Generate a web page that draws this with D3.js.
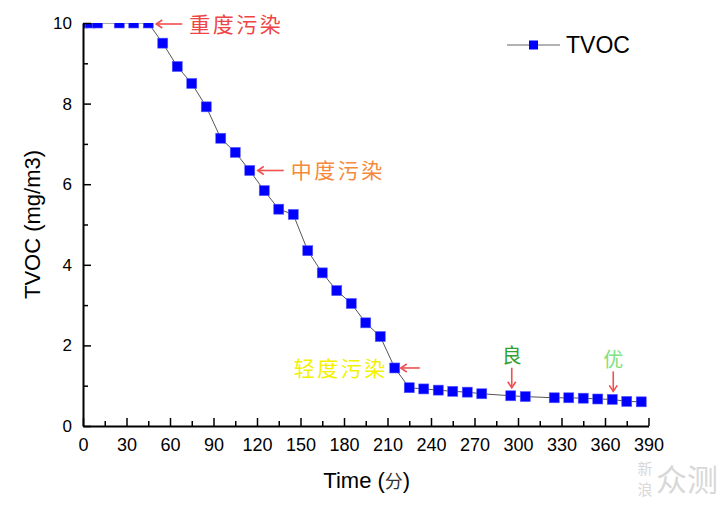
<!DOCTYPE html>
<html><head><meta charset="utf-8">
<script src="https://cdn.jsdelivr.net/npm/d3@7"></script>
<style>
body{margin:0;background:#fff;}
svg{display:block;}
text{font-family:"Liberation Sans",Arial,sans-serif;}
.cjk{font-family:"Noto Sans CJK SC","Noto Sans CJK JP",sans-serif;}
</style></head>
<body>
<svg id="chart" width="720" height="508"></svg>
<script>
// ---- data ----
const times = [0,5,10,25,35,45,55,65,75,85,95,105,115,125,135,145,155,165,175,185,195,205,215,225,235,245,255,265,275,295,305,325,335,345,355,365,375,385];
const tvoc  = [10,10,10,10,10,10,9.50,8.92,8.50,7.92,7.14,6.79,6.34,5.84,5.38,5.25,4.35,3.80,3.36,3.04,2.56,2.22,1.44,0.95,0.92,0.89,0.86,0.84,0.80,0.75,0.73,0.70,0.70,0.69,0.67,0.66,0.61,0.60];
const xTicks = [0,30,60,90,120,150,180,210,240,270,300,330,360,390];
const yTicks = [0,2,4,6,8,10];
const seriesName = "TVOC";
const xTitle = "Time (";
const xTitleCJK = "分";
const yTitle = "TVOC (mg/m3)";
// annotations: label, time of the pointed point, colour
const annoLeft = [ {label:"重度污染", t:45, color:"#ee4646"}, {label:"中度污染", t:115, color:"#f58a3c"} ];
const annoRight = [ {label:"轻度污染", t:215, color:"#f2f200"} ];
const annoTop = [ {label:"良", t:295, color:"#33a033"}, {label:"优", t:365, color:"#7ee27e"} ];

const svg = d3.select("#chart");
const W=720,H=508;
const pLeft=83, pRight=648.5, pTop=23, pBottom=426;
const x = d3.scaleLinear().domain([0,390]).range([pLeft,pRight]);
const y = d3.scaleLinear().domain([0,10]).range([pBottom,pTop]);
const data = times.map((t,i)=>({t, v:tvoc[i]}));
const byT = t => data.find(d=>d.t===t);

svg.append("rect").attr("width",W).attr("height",H).attr("fill","#fff");

svg.append("defs").append("clipPath").attr("id","clip")
  .append("rect").attr("x",pLeft).attr("y",pTop).attr("width",pRight-pLeft).attr("height",pBottom-pTop);

const plot = svg.append("g").attr("clip-path","url(#clip)");
plot.append("path").datum(data)
  .attr("fill","none").attr("stroke","#555").attr("stroke-width",1)
  .attr("d", d3.line().x(d=>x(d.t)).y(d=>y(d.v)));
const ms = 10;
plot.selectAll("rect.m").data(data).join("rect").attr("class","m")
  .attr("x",d=>x(d.t)-ms/2).attr("y",d=>y(d.v)-ms/2)
  .attr("width",ms).attr("height",ms)
  .attr("fill","#0000ff").attr("stroke","#5a5aff").attr("stroke-width",0.6);

// axes
const xMinor = d3.range(15,391,30);
const yMinor = [1,3,5,7,9];
const gx = svg.append("g").attr("transform",`translate(0,${pBottom})`);
gx.call(d3.axisBottom(x).tickValues(xMinor).tickSize(-5).tickSizeOuter(0).tickFormat(""));
gx.call(g=>g.select(".domain").remove());
const gx2 = svg.append("g").attr("transform",`translate(0,${pBottom})`)
  .call(d3.axisBottom(x).tickValues(xTicks).tickSizeInner(-8).tickSizeOuter(0).tickPadding(12).tickFormat(d3.format("d")));
const gy = svg.append("g").attr("transform",`translate(${pLeft},0)`);
gy.call(d3.axisLeft(y).tickValues(yMinor).tickSize(-5).tickSizeOuter(0).tickFormat(""));
gy.call(g=>g.select(".domain").remove());
const gy2 = svg.append("g").attr("transform",`translate(${pLeft},0)`)
  .call(d3.axisLeft(y).tickValues(yTicks).tickSizeInner(-8).tickSizeOuter(0).tickPadding(11).tickFormat(d3.format("d")));
[gx,gx2,gy,gy2].forEach(g=>{
  g.selectAll(".tick line").attr("stroke","#000").attr("stroke-width",1.5);
  g.selectAll(".domain").attr("stroke","#000").attr("stroke-width",2);
  g.selectAll("text").attr("font-size",17).attr("fill","#000")
   .style("font-family",'"Liberation Sans",Arial,sans-serif');
});
gx2.selectAll("text").attr("font-size",18);

// titles
svg.append("text").attr("transform",`translate(40,${(pTop+pBottom)/2}) rotate(-90)`)
  .attr("text-anchor","middle").attr("font-size",22).attr("fill","#000").text(yTitle);
const xt = svg.append("text").attr("x",(pLeft+pRight)/2+1).attr("y",488)
  .attr("text-anchor","middle").attr("font-size",22).attr("fill","#000");
xt.append("tspan").text(xTitle);
xt.append("tspan").attr("class","cjk").attr("font-size",18).attr("fill","#333").text(xTitleCJK);
xt.append("tspan").text(")");

// legend
const lg = svg.append("g");
lg.append("line").attr("x1",507).attr("x2",560).attr("y1",45).attr("y2",45).attr("stroke","#999").attr("stroke-width",1.5);
lg.append("rect").attr("x",529).attr("y",40.5).attr("width",9).attr("height",9).attr("fill","#0000ff");
lg.append("text").attr("x",566).attr("y",45).attr("dy","0.35em").attr("font-size",23).attr("fill","#000").text(seriesName);

// annotations
const arrowCol = "#f05050";
function hArrow(xTip, xTail, yy){
  const dir = xTail > xTip ? 1 : -1;
  svg.append("line").attr("x1",xTip).attr("x2",xTail).attr("y1",yy).attr("y2",yy).attr("stroke",arrowCol).attr("stroke-width",1.6);
  svg.append("path").attr("d",`M${xTip+dir*6},${yy-4}L${xTip},${yy}L${xTip+dir*6},${yy+4}`)
    .attr("fill","none").attr("stroke",arrowCol).attr("stroke-width",1.6);
}
function vArrow(xx, yTail, yTip){
  svg.append("line").attr("x1",xx).attr("x2",xx).attr("y1",yTail).attr("y2",yTip).attr("stroke",arrowCol).attr("stroke-width",1.6);
  svg.append("path").attr("d",`M${xx-4},${yTip-6}L${xx},${yTip}L${xx+4},${yTip-6}`)
    .attr("fill","none").attr("stroke",arrowCol).attr("stroke-width",1.6);
}
annoLeft.forEach(a=>{
  const d = byT(a.t);
  const px = x(d.t), py = Math.max(y(d.v), pTop+1);
  hArrow(px+8, px+34, py);
  svg.append("text").attr("class","cjk").attr("x",px+41).attr("y",py).attr("dy","0.36em")
    .attr("font-size",21).attr("letter-spacing",2.5).attr("fill",a.color).text(a.label);
});
annoRight.forEach(a=>{
  const d = byT(a.t);
  const px = x(d.t), py = y(d.v);
  hArrow(px+6, px+25, py);
  svg.append("text").attr("class","cjk").attr("x",px-7).attr("y",py).attr("dy","0.36em")
    .attr("text-anchor","end").attr("font-size",21).attr("letter-spacing",2.5).attr("fill",a.color).text(a.label);
});
annoTop.forEach(a=>{
  const d = byT(a.t);
  const px = x(d.t)+1, py = y(d.v);
  vArrow(px, py-28, py-8);
  svg.append("text").attr("class","cjk").attr("x",px).attr("y",py-40).attr("dy","0.36em")
    .attr("text-anchor","middle").attr("font-size",20).attr("fill",a.color).text(a.label);
});

// watermark
const wm = svg.append("g").attr("fill","#d8d8d8");
wm.append("text").attr("class","cjk").attr("x",645).attr("y",474).attr("text-anchor","middle").attr("font-size",15).text("新");
wm.append("text").attr("class","cjk").attr("x",645).attr("y",495).attr("text-anchor","middle").attr("font-size",15).text("浪");
wm.append("text").attr("class","cjk").attr("x",687).attr("y",491).attr("text-anchor","middle").attr("font-size",31).text("众测");
</script>
</body></html>
